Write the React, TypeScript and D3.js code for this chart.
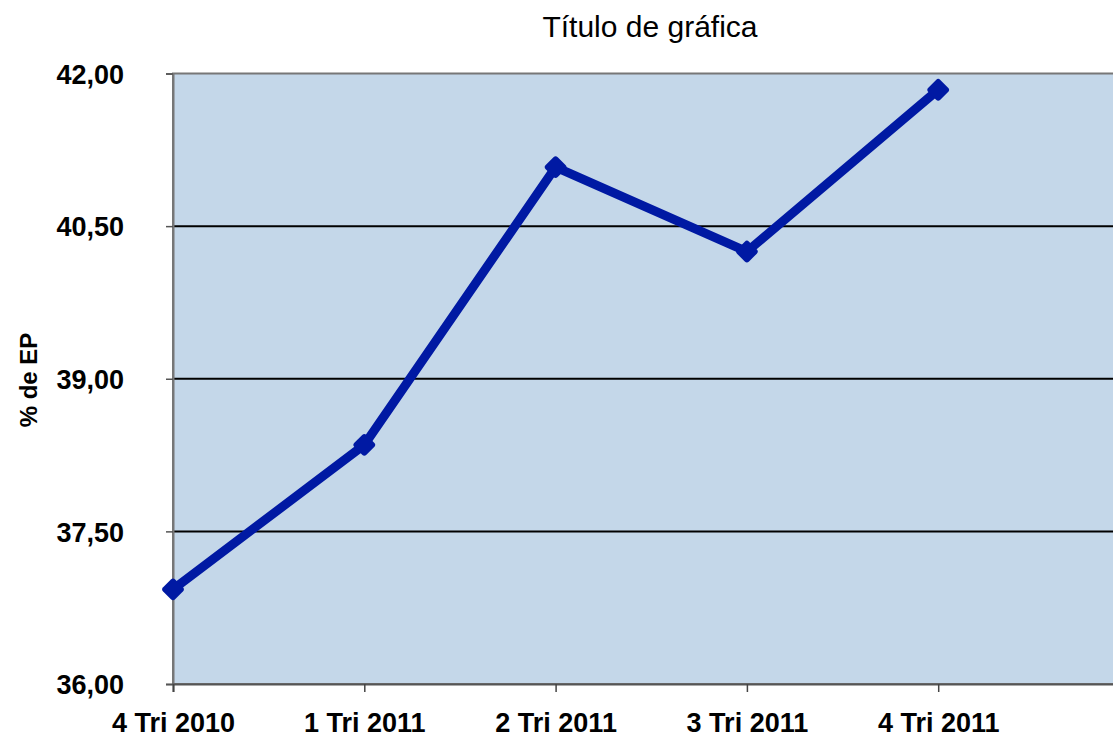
import React, { useEffect, useRef } from "react";
import * as d3 from "d3";

const categories = ["4 Tri 2010", "1 Tri 2011", "2 Tri 2011", "3 Tri 2011", "4 Tri 2011", ""];
const values = [36.93, 38.35, 41.08, 40.25, 41.84];
const yTicks = [36, 37.5, 39, 40.5, 42];

const App = () => {
  const ref = useRef<SVGSVGElement>(null);

  useEffect(() => {
    const svg = d3.select(ref.current);
    svg.selectAll("*").remove();

    const left = 173;
    const top = 73.5;
    const bottom = 684;
    const step = 191.3;
    const right = left + step * (categories.length - 1);

    const x = d3
      .scalePoint()
      .domain(categories.map((c, i) => String(i)))
      .range([left, right]);
    const y = d3.scaleLinear().domain([36, 42]).range([bottom, top]);

    const font = "Arial, 'Liberation Sans', sans-serif";

    // plot area
    svg
      .append("rect")
      .attr("x", left)
      .attr("y", top)
      .attr("width", right - left)
      .attr("height", bottom - top)
      .attr("fill", "#c4d7e9")
      .attr("stroke", "#777")
      .attr("stroke-width", 2);

    // grid
    svg
      .append("g")
      .selectAll("line")
      .data(yTicks.filter((t) => t > 36 && t < 42))
      .join("line")
      .attr("x1", left)
      .attr("x2", right)
      .attr("y1", (d) => y(d))
      .attr("y2", (d) => y(d))
      .attr("stroke", "#000")
      .attr("stroke-width", 2);

    // y axis
    const yAxis = svg
      .append("g")
      .attr("transform", `translate(${left},0)`)
      .call(
        d3
          .axisLeft(y)
          .tickValues(yTicks)
          .tickSize(7)
          .tickPadding(42)
          .tickFormat((d) => d3.format(".2f")(d as number).replace(".", ","))
      );
    yAxis.select(".domain").attr("stroke", "#777").attr("stroke-width", 2);
    yAxis.selectAll(".tick line").attr("stroke", "#555").attr("stroke-width", 1.5);
    yAxis
      .selectAll("text")
      .attr("font-family", font)
      .attr("font-size", 27)
      .attr("font-weight", "bold")
      .attr("fill", "#000")
      .attr("dy", "0.36em");

    // x axis
    const xAxis = svg
      .append("g")
      .attr("transform", `translate(0,${bottom})`)
      .call(
        d3
          .axisBottom(x)
          .tickSize(8)
          .tickPadding(21)
          .tickFormat((d) => categories[+d])
      );
    xAxis.select(".domain").attr("stroke", "#555").attr("stroke-width", 2);
    xAxis.selectAll(".tick line").attr("stroke", "#444").attr("stroke-width", 1.5);
    xAxis
      .selectAll("text")
      .attr("font-family", font)
      .attr("font-size", 27)
      .attr("font-weight", "bold")
      .attr("fill", "#000");

    // line
    const line = d3
      .line<number>()
      .x((d, i) => x(String(i)) as number)
      .y((d) => y(d));
    svg
      .append("path")
      .datum(values)
      .attr("d", line)
      .attr("fill", "none")
      .attr("stroke", "#0019a3")
      .attr("stroke-width", 9)
      .attr("stroke-linejoin", "round");

    // markers
    svg
      .append("g")
      .selectAll("rect")
      .data(values)
      .join("rect")
      .attr("x", -8.5)
      .attr("y", -8.5)
      .attr("width", 17)
      .attr("height", 17)
      .attr("rx", 3)
      .attr("fill", "#0019a3")
      .attr("transform", (d, i) => `translate(${x(String(i))},${y(d)}) rotate(45)`);

    // titles
    svg
      .append("text")
      .attr("x", 650)
      .attr("y", 37)
      .attr("text-anchor", "middle")
      .attr("font-family", font)
      .attr("font-size", 30)
      .attr("fill", "#000")
      .text("Título de gráfica");

    svg
      .append("text")
      .attr("transform", "translate(37,380) rotate(-90)")
      .attr("text-anchor", "middle")
      .attr("font-family", font)
      .attr("font-size", 24)
      .attr("font-weight", "bold")
      .attr("fill", "#000")
      .text("% de EP");
  }, []);

  return (
    <div style={{ position: "absolute", left: 0, top: 0 }}>
      <svg ref={ref} width={1113} height={738} style={{ display: "block" }} />
    </div>
  );
};

export default App;
